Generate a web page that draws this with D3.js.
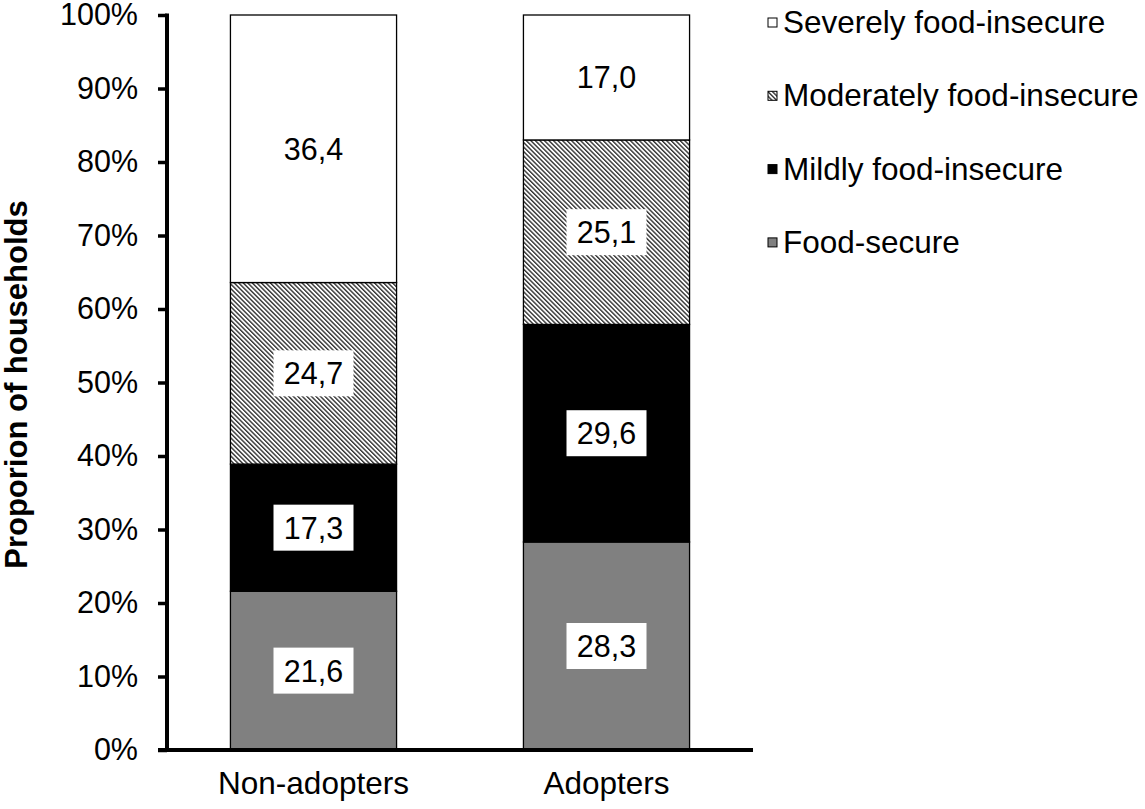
<!DOCTYPE html>
<html>
<head>
<meta charset="utf-8">
<script src="https://cdn.jsdelivr.net/npm/d3@7"></script>
<style>
  body { margin: 0; background: #fff; }
  text { font-family: "Liberation Sans", Arial, sans-serif; }
</style>
</head>
<body>
<div id="chart"></div>
<script>
// data
var groups = ["Non-adopters", "Adopters"];
var categories = ["Food-secure", "Mildly food-insecure", "Moderately food-insecure", "Severely food-insecure"];
var foodSecure = [21.6, 28.3];
var mildly = [17.3, 29.6];
var moderately = [24.7, 25.1];
var severely = [36.4, 17.0];
var yTicks = [0, 10, 20, 30, 40, 50, 60, 70, 80, 90, 100];

var series = [foodSecure, mildly, moderately, severely];
var fills = ["#808080", "#000000", "url(#hatch)", "#ffffff"];

var width = 1145, height = 809;
var x0 = 167, x1 = 753, yTop = 15, yBottom = 750;
var fs = 30.5;

var svg = d3.select("#chart").append("svg")
    .attr("width", width)
    .attr("height", height);

var defs = svg.append("defs");
var pat = defs.append("pattern")
    .attr("id", "hatch")
    .attr("patternUnits", "userSpaceOnUse")
    .attr("width", 3.2)
    .attr("height", 3.2)
    .attr("patternTransform", "rotate(-45)");
pat.append("rect").attr("width", 3.2).attr("height", 3.2).attr("fill", "#fff");
pat.append("rect").attr("x", 0).attr("width", 1.4).attr("height", 3.2).attr("fill", "#333");

var x = d3.scaleBand()
    .domain(groups)
    .range([x0, x1])
    .paddingInner(0.433)
    .paddingOuter(0.2165);

var y = d3.scaleLinear()
    .domain([0, 100])
    .range([yBottom, yTop]);

// build stacked table
var rows = groups.map(function (g, i) {
    var r = { group: g };
    categories.forEach(function (c, k) { r[c] = series[k][i]; });
    return r;
});
var stacked = d3.stack().keys(categories)(rows);

var layers = svg.append("g").selectAll("g")
    .data(stacked)
    .enter().append("g")
    .attr("fill", function (d, i) { return fills[i]; });

layers.selectAll("rect")
    .data(function (d) { return d; })
    .enter().append("rect")
    .attr("x", function (d) { return x(d.data.group); })
    .attr("y", function (d) { return y(d[1]); })
    .attr("width", x.bandwidth())
    .attr("height", function (d) { return y(d[0]) - y(d[1]); })
    .attr("stroke", "#000")
    .attr("stroke-width", 1.3);

// value labels
stacked.forEach(function (layer) {
    layer.forEach(function (d) {
        var v = d[1] - d[0];
        var cx = x(d.data.group) + x.bandwidth() / 2;
        var cy = (y(d[0]) + y(d[1])) / 2;
        var t = v.toFixed(1).replace(".", ",");
        svg.append("rect")
            .attr("x", cx - 40)
            .attr("y", cy - 23)
            .attr("width", 80)
            .attr("height", 46)
            .attr("fill", "#fff");
        svg.append("text")
            .attr("x", cx)
            .attr("y", cy)
            .attr("dy", "0.36em")
            .attr("text-anchor", "middle")
            .attr("font-size", fs)
            .text(t);
    });
});

// y axis
var yAxis = svg.append("g")
    .attr("transform", "translate(" + x0 + ",0)")
    .call(d3.axisLeft(y).tickValues(yTicks).tickSize(9).tickPadding(20)
        .tickFormat(function (d) { return d + "%"; }));
yAxis.select(".domain").remove();
yAxis.selectAll(".tick line").attr("stroke", "#000").attr("stroke-width", 3.5);
yAxis.selectAll(".tick text")
    .attr("font-size", fs)
    .attr("font-family", "Liberation Sans, Arial, sans-serif")
    .attr("fill", "#000");

svg.append("line")
    .attr("x1", x0).attr("x2", x0)
    .attr("y1", yTop - 1.5).attr("y2", yBottom + 2)
    .attr("stroke", "#000").attr("stroke-width", 4);

// x axis
var xAxis = svg.append("g")
    .attr("transform", "translate(0," + yBottom + ")")
    .call(d3.axisBottom(x).tickSize(0).tickPadding(22));
xAxis.select(".domain").remove();
xAxis.selectAll(".tick text")
    .attr("font-size", 31.5)
    .attr("font-family", "Liberation Sans, Arial, sans-serif")
    .attr("fill", "#000");

svg.append("line")
    .attr("x1", x0 - 9).attr("x2", x1)
    .attr("y1", yBottom).attr("y2", yBottom)
    .attr("stroke", "#000").attr("stroke-width", 4);

// y title
svg.append("text")
    .attr("transform", "translate(27," + ((yTop + yBottom) / 2 + 2) + ") rotate(-90)")
    .attr("text-anchor", "middle")
    .attr("font-size", 31)
    .attr("font-weight", "bold")
    .text("Proporion of households");

// legend
var legendItems = categories.slice().reverse();
var legendFills = fills.slice().reverse();
var legend = svg.append("g").selectAll("g")
    .data(legendItems)
    .enter().append("g")
    .attr("transform", function (d, i) { return "translate(768," + (33 + i * 73.3) + ")"; });
legend.append("rect")
    .attr("x", 0).attr("y", -15)
    .attr("width", 9).attr("height", 9)
    .attr("fill", function (d, i) { return legendFills[i]; })
    .attr("stroke", "#000").attr("stroke-width", 1);
legend.append("text")
    .attr("x", 15)
    .attr("font-size", 31.5)
    .text(function (d) { return d; });
</script>
</body>
</html>
